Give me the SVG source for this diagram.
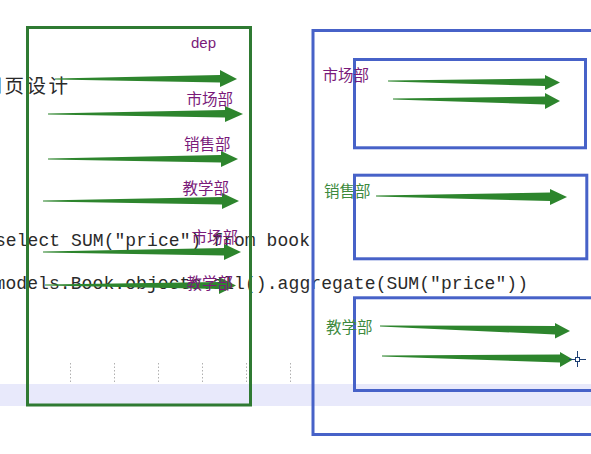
<svg xmlns="http://www.w3.org/2000/svg" width="591" height="454" viewBox="0 0 591 454">
  <defs>
    <style>
      .code { font-family: "Liberation Mono", "Courier New", monospace; font-size: 18px; fill: #2a2a2a; }
      .bg { font-family: "Noto Sans CJK SC", "Microsoft YaHei", sans-serif; font-size: 19.5px; fill: #2a2a2a; }
      .lbl { font-family: "Noto Sans CJK SC", sans-serif; font-size: 15.5px; fill: #7a1a7a; }
      .lblg { font-family: "Noto Sans CJK SC", sans-serif; font-size: 15.5px; fill: #3d8a3d; }
      .dep { font-family: "Liberation Sans", Arial, sans-serif; font-size: 15px; fill: #7a1a7a; }
      .gbox { fill: none; stroke: #2f7a32; stroke-width: 3; }
      .bbox { fill: none; stroke: #4762c8; stroke-width: 3; }
      .arr { fill: #2d852d; }
      .dot { stroke: #b0b0b0; stroke-width: 1; stroke-dasharray: 1.5 2; }
    </style>
  </defs>
  <rect width="591" height="454" fill="#ffffff"/>

  <!-- background page -->
  <g id="background">
    <rect x="0" y="384" width="591" height="22" fill="#e8e9fb"/>
    <line class="dot" x1="70.5" y1="363" x2="70.5" y2="383"/>
    <line class="dot" x1="114.5" y1="363" x2="114.5" y2="383"/>
    <line class="dot" x1="158.5" y1="363" x2="158.5" y2="383"/>
    <line class="dot" x1="202.5" y1="363" x2="202.5" y2="383"/>
    <line class="dot" x1="246.5" y1="363" x2="246.5" y2="383"/>
    <line class="dot" x1="290.5" y1="363" x2="290.5" y2="383"/>
    <text class="bg" x="-17.5" y="92.5" letter-spacing="2.5">网页设计</text>
    <text class="code" x="-5" y="246" textLength="315" lengthAdjust="spacing">select SUM("price") from book</text>
    <text class="code" x="-5.5" y="289" textLength="533.5" lengthAdjust="spacing">models.Book.objects.all().aggregate(SUM("price"))</text>
  </g>

  <!-- left box -->
  <g id="dep-box">
    <rect class="gbox" x="27.5" y="27.5" width="223" height="377.5"/>
  </g>

  <!-- right boxes -->
  <g id="group-box">
    <rect class="bbox" x="313" y="30.5" width="300" height="404"/>
  </g>
  <g id="market-box">
    <rect class="bbox" x="354.5" y="59.5" width="231" height="88.3"/>
  </g>
  <g id="sales-box">
    <rect class="bbox" x="354.5" y="175.2" width="232.3" height="83.6"/>
  </g>
  <g id="teach-box">
    <rect class="bbox" x="354.5" y="297.8" width="260" height="92.7"/>
  </g>

  <!-- connectors -->
  <g id="connectors">
    <polygon class="arr" points="55,78.5 220,75 220,70 237,79 220,87 220,82.5 55,79.5"/>
    <polygon class="arr" points="48,113.5 225,110 225,106 243,114 225,122 225,117.5 48,114.5"/>
    <polygon class="arr" points="48,158.5 221,155 221,151 238,159 221,167 221,162.5 48,159.5"/>
    <polygon class="arr" points="43,200.5 222,197 222,193 239,201 222,209 222,204.5 43,201.5"/>
    <polygon class="arr" points="43,251.5 224,248 224,244 241,252 224,260 224,255.5 43,252.5"/>
    <polygon class="arr" points="45,284.5 219,282 219,277 236,285.5 219,294 219,289 45,285.5"/>

    <polygon class="arr" points="388,80.5 545,78.5 545,75 560,82.5 545,90 545,86 388,81.5"/>
    <polygon class="arr" points="393,98.5 545,96.5 545,93 560,101 545,109 545,104.5 393,99.5"/>
    <polygon class="arr" points="376,195.5 550,192.5 550,189 567,197 550,205 550,201 376,196.5"/>
    <polygon class="arr" points="380,325.5 555,326 555,323 570,331 555,338.5 555,334.5 380,326.5"/>
    <polygon class="arr" points="382,355.5 560,354.5 560,352 573,359.5 560,367 560,362.5 382,356.5"/>
  </g>

  <!-- labels -->
  <g id="labels">
    <text class="dep" x="191" y="47.5">dep</text>
    <text class="lbl" x="186.5" y="105">市场部</text>
    <text class="lbl" x="184" y="150">销售部</text>
    <text class="lbl" x="182.5" y="193.5">教学部</text>
    <text class="lbl" x="191.5" y="243">市场部</text>
    <text class="lbl" x="186.5" y="289">教学部</text>
    <text class="lbl" x="322.5" y="81">市场部</text>
    <text class="lblg" x="324" y="197">销售部</text>
    <text class="lblg" x="326" y="333">教学部</text>
  </g>

  <!-- cursor -->
  <g id="cursor" stroke="#1d3f73" stroke-width="1" fill="none">
    <line x1="569" y1="359.5" x2="586" y2="359.5"/>
    <line x1="577.5" y1="351" x2="577.5" y2="367"/>
    <rect x="575.5" y="357.5" width="4" height="4" fill="#ffffff"/>
  </g>
</svg>
